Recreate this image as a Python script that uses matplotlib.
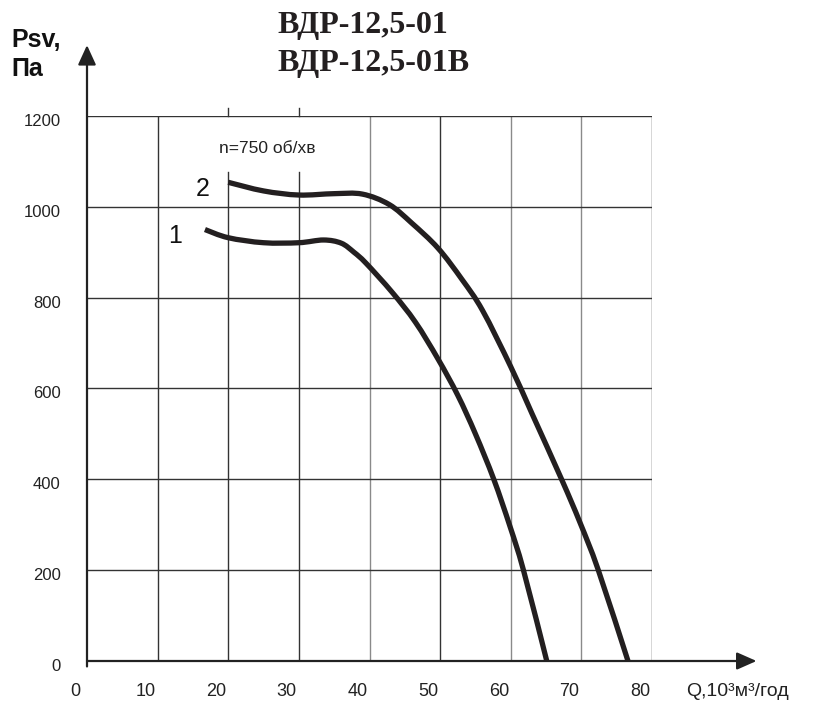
import matplotlib
matplotlib.use("Agg")
import matplotlib.pyplot as plt
from matplotlib.path import Path
from matplotlib.patches import PathPatch
from matplotlib.transforms import ScaledTranslation

# ---- data ----
title_lines = ["ВДР-12,5-01", "ВДР-12,5-01В"]
y_title = ["Psv,", "Па"]
x_title = "Q,10³м³/год"
speed_label = "n=750 об/хв"

x_ticks = [0, 10, 20, 30, 40, 50, 60, 70, 80]
x_tick_labels = ["0", "10", "20", "30", "40", "50", "60", "70", "80"]
y_ticks = [0, 200, 400, 600, 800, 1000, 1200]
y_tick_labels = ["0", "200", "400", "600", "800", "1000", "1200"]

curve1_q = [16.7, 20, 25, 30, 33.5, 36, 37.8, 39.5, 43.2, 46.5, 49.7, 52.5,
            55, 57.6, 59.9, 61.8, 65.1]
curve1_p = [950, 932, 921, 921, 927, 920, 900, 876, 812, 746, 665, 585,
            500, 400, 296, 200, 0]

curve2_q = [20, 25, 30, 35, 39, 42.8, 46, 49.7, 53.1, 56, 60, 63, 67.2,
            69.8, 72.4, 76.6]
curve2_p = [1054, 1035, 1026, 1029, 1028, 1005, 964, 909, 840, 772, 648,
            545, 400, 305, 200, 0]

curve_names = ["1", "2"]
curve_name_pos_q = [12.5, 16.4]
curve_name_pos_p = [936, 1040]

# ---- figure ----
W, H, DPI = 830, 707, 100
fig = plt.figure(figsize=(W / DPI, H / DPI), dpi=DPI)
ax = fig.add_axes([87 / W, (H - 661) / H, 565 / W, 545 / H])
ax.set_xlim(0, 80)
ax.set_ylim(0, 1200)
for s in ax.spines.values():
    s.set_visible(False)

sans = ["Liberation Sans", "DejaVu Sans"]
serif = ["Liberation Serif", "DejaVu Serif"]

# grid lines
dark = "#333333"
light = "#8a8a8a"
vcolors = {10: dark, 20: dark, 30: dark, 40: light, 50: dark, 60: light,
           70: light, 80: dark}
for xv in x_ticks[1:]:
    if xv in (20, 30):
        ax.plot([xv, xv], [0, 1077], color=vcolors[xv], lw=1.0, zorder=1)
        ax.plot([xv, xv], [1200, 1218], color=vcolors[xv], lw=1.0,
                zorder=1, clip_on=False)
    else:
        ax.plot([xv, xv], [0, 1200], color=vcolors[xv], lw=1.0, zorder=1)
for yv in y_ticks[1:]:
    ax.plot([0, 80], [yv, yv], color=dark, lw=1.0, zorder=1)

# axes with arrows
ax.annotate("", xy=(94.8, 0), xytext=(0, 0), xycoords="data",
            annotation_clip=False,
            arrowprops=dict(arrowstyle="-|>,head_length=12,head_width=5.3",
                            mutation_scale=1, color="#222222", lw=1.6,
                            shrinkA=0, shrinkB=0))
ax.annotate("", xy=(0, 1356), xytext=(0, -12), xycoords="data",
            annotation_clip=False,
            arrowprops=dict(arrowstyle="-|>,head_length=12,head_width=5.5",
                            mutation_scale=1, color="#222222", lw=1.6,
                            shrinkA=0, shrinkB=0))


def smooth_path(q, p):
    """Catmull-Rom spline through the points, expressed as cubic Beziers."""
    sx, sy = 565 / 80.0, 545 / 1200.0
    pts = [(a * sx, b * sy) for a, b in zip(q, p)]
    n = len(pts)
    verts = [pts[0]]
    codes = [Path.MOVETO]
    for i in range(n - 1):
        p0 = pts[i - 1] if i > 0 else pts[i]
        p1 = pts[i]
        p2 = pts[i + 1]
        p3 = pts[i + 2] if i + 2 < n else pts[i + 1]
        c1 = (p1[0] + (p2[0] - p0[0]) / 6.0, p1[1] + (p2[1] - p0[1]) / 6.0)
        c2 = (p2[0] - (p3[0] - p1[0]) / 6.0, p2[1] - (p3[1] - p1[1]) / 6.0)
        verts += [c1, c2, p2]
        codes += [Path.CURVE4] * 3
    verts = [(a / sx, b / sy) for a, b in verts]
    return Path(verts, codes)


for q, p in ((curve1_q, curve1_p), (curve2_q, curve2_p)):
    ax.add_patch(PathPatch(smooth_path(q, p), fill=False, edgecolor="#231f20",
                           lw=3.8, capstyle="butt", joinstyle="round",
                           zorder=3))

for name, xq, yp in zip(curve_names, curve_name_pos_q, curve_name_pos_p):
    ax.text(xq, yp, name, fontsize=18, family=sans, ha="center", va="center",
            color="#111111")

ax.text(25.5, 1128, speed_label, fontsize=12.5, family=sans, ha="center",
        va="center", color="#222222")

# ticks
ax.set_xticks(x_ticks)
ax.set_xticklabels(x_tick_labels, fontsize=13, family=sans, color="#222222")
ax.set_yticks(y_ticks)
ax.set_yticklabels(y_tick_labels, fontsize=12, family=sans, color="#222222")
ax.tick_params(axis="x", length=0, pad=16)
ax.tick_params(axis="y", length=0, pad=19)
for lab in ax.get_xticklabels():
    lab.set_transform(lab.get_transform() +
                      ScaledTranslation(-12 / DPI, 0, fig.dpi_scale_trans))
for lab in ax.get_yticklabels():
    lab.set_transform(lab.get_transform() +
                      ScaledTranslation(0, -4 / DPI, fig.dpi_scale_trans))

# titles
fig.text(277 / W, 1 - 25 / H, title_lines[0], fontsize=23, family=serif,
         weight="bold", ha="left", va="center", color="#231f20")
fig.text(277 / W, 1 - 63 / H, title_lines[1], fontsize=23, family=serif,
         weight="bold", ha="left", va="center", color="#231f20")
fig.text(11 / W, 1 - 40 / H, y_title[0], fontsize=18, family=sans,
         weight="bold", ha="left", va="center", color="#111111")
fig.text(11 / W, 1 - 69 / H, y_title[1], fontsize=18, family=sans,
         weight="bold", ha="left", va="center", color="#111111")
fig.text(686 / W, 1 - 692 / H, x_title, fontsize=14, family=sans,
         ha="left", va="center", color="#222222")

fig.savefig("out.png", dpi=DPI)
